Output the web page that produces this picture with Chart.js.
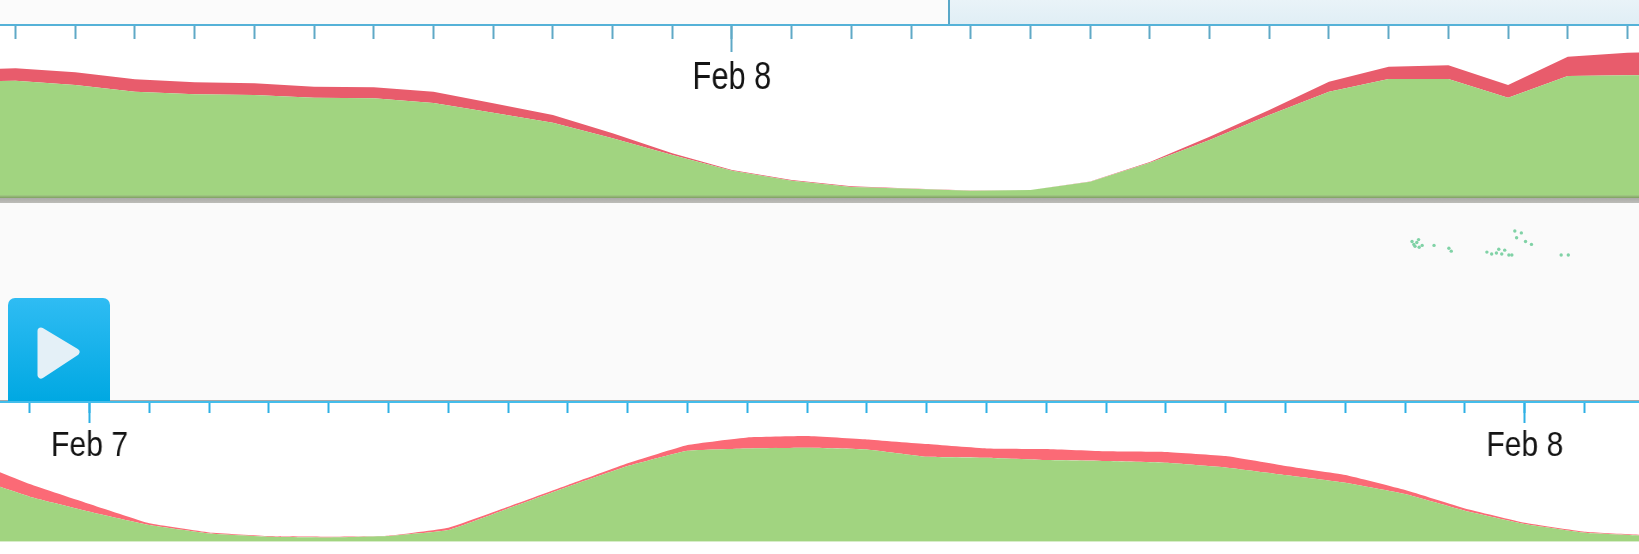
<!DOCTYPE html>
<html><head><meta charset="utf-8">
<script src="https://cdn.jsdelivr.net/npm/chart.js@4"></script>
<style>
html,body{margin:0;padding:0;background:#fff;width:1639px;height:554px;overflow:hidden}
div,canvas,svg{position:absolute;display:block}
canvas{filter:blur(0.5px)}
</style></head><body>
<div style="left:0;top:0;width:1639px;height:24px;background:#fbfbfb"></div>
<div style="left:949px;top:0;width:690px;height:24px;background:linear-gradient(#e9f3f8,#e0eef5)"></div>
<div style="left:948px;top:0;width:2px;height:24px;background:#5aa8c8"></div>
<div style="left:0;top:203px;width:1639px;height:197px;background:#fafafa"></div>
<canvas id="speckChart" width="1639" height="197" style="left:0;top:203px"></canvas>
<canvas id="topChart" width="1639" height="203" style="left:0;top:0"></canvas>
<canvas id="topLabels" width="2075" height="203" style="left:0;top:0;width:1639px;height:203px"></canvas>
<div style="left:0;top:195px;width:1639px;height:3px;background:linear-gradient(#a3cc85,#7f9f62)"></div>
<div style="left:0;top:198px;width:1639px;height:5px;background:linear-gradient(#acaca8,#bcbcb8)"></div>
<div style="left:0;top:400px;width:1639px;height:2px;background:#a8a8a8"></div>
<canvas id="bottomChart" width="1639" height="164" style="left:0;top:390px"></canvas>
<canvas id="bottomLabels" width="1906" height="164" style="left:0;top:390px;width:1639px;height:164px"></canvas>
<div style="left:8px;top:298px;width:102px;height:103px;border-radius:7px 7px 0 0;background:linear-gradient(#2fbcf3,#00a8e2)"></div>
<svg style="left:8px;top:298px;filter:blur(0.7px)" width="102" height="103"><path d="M33 33 L68 54 L33 77 Z" fill="#e4f0f7" stroke="#e4f0f7" stroke-width="7" stroke-linejoin="round"/></svg>
<script>
const topHours = [11,12,13,14,15,16,17,18,19,20,21,22,23,24,25,26,27,28,29,30,31,32,33,34,35,36,37,38,39,40];
const topGreen = [113,114.3,110,103.3,100.7,100,97.3,96.7,92,82.3,72.3,56.7,40,24.3,14.3,8,6.3,4.3,5,13.3,32.3,55,80,103.3,116,116,97.3,119,119.7,119.7];
const topRed = [12,12.4,12.7,12.4,12,11.7,11,11,11.3,9.4,7.7,5,1.7,0.7,0.7,0.7,0.3,0.3,0,0.2,0.7,3.3,5,10,12.3,13.7,12.7,19.3,22.6,23];
const bottomHours = [-2,-1,0,1,2,3,4,5,6,7,8,9,10,11,12,13,14,15,16,17,18,19,20,21,22,23,24,25,26];
const bottomGreen = [65,45,30,16.7,8.3,5,4.3,5.7,11.7,33.3,55,75.7,91,93.3,94,92.3,85,84,81.7,80.7,79,74.3,66.7,59,47.7,31,17.7,9,6];
const bottomRed = [16.7,12.7,7.7,1.7,1,0.7,0.7,0.3,2.3,1.7,1.7,2.7,5.7,11,11.7,10,12.7,9.3,11,9.7,10.7,11.3,9,7.7,4,2.3,1.3,1,0.7];
const speckHours = [35.44,35.47,35.49,35.52,35.56,35.61,35.55,35.81,36.06,36.1,36.70,36.78,36.86,36.95,37.07,37.12,36.9,37.0,37.2,37.28,37.17,37.35,37.45,37.95,38.07];
const speckLevels = [161,158,156,160,155,157,163,157,154,151,150,148,149,148,147,147,153,152,165,170,172,161,158,147,147];
const dayLabels = {0:'Feb 7',24:'Feb 8'};

const green='#a1d480', redTop='#e85c6c', redBottom='#fb6a76';
function toPoints(xs,ys){return xs.map((x,i)=>({x,y:ys[i]}));}
function build(id,hours,greenVals,redVals,opt){
  const yMax=opt.yMax;
  new Chart(document.getElementById(id),{
    type:'line',
    data:{datasets:[
      {data:toPoints(hours,greenVals),backgroundColor:green,borderWidth:0,fill:'origin',pointRadius:0,tension:opt.tension,stack:'s'},
      {data:toPoints(hours,redVals),backgroundColor:opt.red,borderWidth:0,fill:'-1',pointRadius:0,tension:opt.tension,stack:'s'}
    ]},
    options:{
      responsive:false,animation:false,parsing:{xAxisKey:'x',yAxisKey:'y'},
      layout:{padding:{top:opt.padTop,bottom:opt.padBottom,left:0,right:0}},
      plugins:{legend:{display:false},tooltip:{enabled:false}},
      scales:{
        y:{display:false,stacked:true,min:0,max:yMax},
        x:{type:'linear',position:{y:yMax},min:opt.min,max:opt.max,
          border:{display:true,color:opt.axis,width:2},
          grid:{drawOnChartArea:false,tickLength:opt.minorTick,tickWidth:2,tickColor:opt.tick},
          ticks:{display:false,stepSize:1,autoSkip:false,includeBounds:false}},
        xDay:{type:'linear',axis:'x',position:{y:yMax},min:opt.min,max:opt.max,
          border:{display:false},
          grid:{drawOnChartArea:false,tickLength:opt.majorTick,tickWidth:2,tickColor:opt.tick},
          ticks:{display:false,stepSize:24,autoSkip:false,includeBounds:false}}
      }
    }
  });
}
function buildLabels(id,opt){
  new Chart(document.getElementById(id),{
    type:'line',
    data:{datasets:[]},
    options:{
      responsive:false,animation:false,
      layout:{padding:{top:opt.padTop,bottom:opt.padBottom,left:0,right:0}},
      plugins:{legend:{display:false},tooltip:{enabled:false}},
      scales:{
        y:{display:false,min:0,max:opt.yMax},
        x:{type:'linear',position:{y:opt.yMax},min:opt.min,max:opt.max,
          border:{display:false},
          grid:{drawOnChartArea:false,tickLength:opt.majorTick,tickColor:'rgba(0,0,0,0)'},
          ticks:{stepSize:24,autoSkip:false,includeBounds:false,maxRotation:0,minRotation:0,padding:opt.labelPad,
            color:'#141414',font:{family:'"Liberation Sans",Arial,sans-serif',size:opt.fontSize},
            callback:v=>dayLabels[v]||''}}
      }
    }
  });
}
const topOpt={yMax:170.5,padTop:24.5,padBottom:8,min:11.739,max:39.193,red:redTop,axis:'#55b2d8',tick:'#5fa9c6',minorTick:13,majorTick:27,labelPad:3,fontSize:39,tension:0};
const bottomOpt={yMax:139.7,padTop:12,padBottom:12.3,min:-1.497,max:25.91,red:redBottom,axis:'#43bdeb',tick:'#2fb0e4',minorTick:10,majorTick:21,labelPad:2,fontSize:35,tension:0.1};
build('topChart',topHours,topGreen,topRed,topOpt);
build('bottomChart',bottomHours,bottomGreen,bottomRed,bottomOpt);
buildLabels('topLabels',topOpt);
buildLabels('bottomLabels',bottomOpt);

new Chart(document.getElementById('speckChart'),{
  type:'scatter',
  data:{datasets:[{data:toPoints(speckHours,speckLevels),pointRadius:1.7,borderWidth:0,backgroundColor:'#80d2a6'}]},
  options:{responsive:false,animation:false,
    plugins:{legend:{display:false},tooltip:{enabled:false}},
    scales:{x:{display:false,type:'linear',min:11.739,max:39.193},y:{display:false,min:0,max:197}}}
});
</script>
</body></html>
